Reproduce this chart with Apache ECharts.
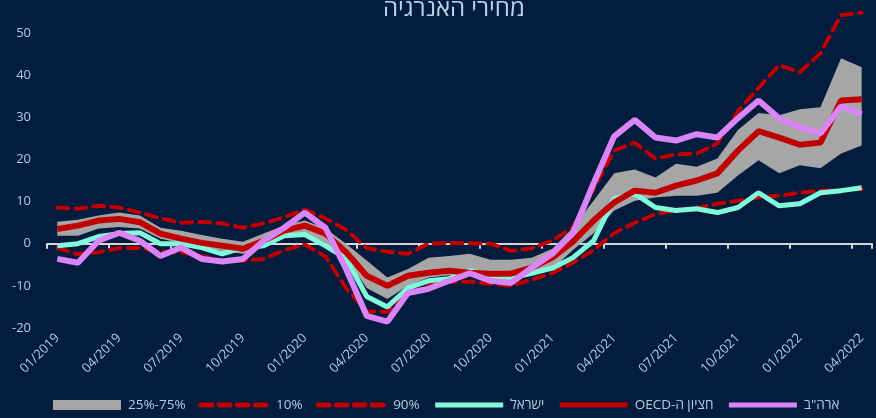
<!DOCTYPE html>
<html>
<head>
<meta charset="utf-8">
<script src="https://cdn.jsdelivr.net/npm/echarts@6/dist/echarts.min.js"></script>
<style>
  html, body { margin: 0; padding: 0; background: #041c3e; }
  #main { width: 876px; height: 418px; }
</style>
</head>
<body>
<div id="main"></div>
<script>
// months 01/2019 .. 04/2022
let months = ['01/2019','02/2019','03/2019','04/2019','05/2019','06/2019','07/2019','08/2019','09/2019','10/2019','11/2019','12/2019',
  '01/2020','02/2020','03/2020','04/2020','05/2020','06/2020','07/2020','08/2020','09/2020','10/2020','11/2020','12/2020',
  '01/2021','02/2021','03/2021','04/2021','05/2021','06/2021','07/2021','08/2021','09/2021','10/2021','11/2021','12/2021',
  '01/2022','02/2022','03/2022','04/2022'];

let p25 = [1.9,1.9,3.6,4.0,3.6,1.2,0.2,-0.5,-1.7,-2.4,-0.9,1.4,2.4,0.2,-3.5,-10.5,-13.1,-10,-8,-7.5,-7,-7.8,-8,-7,-6,-1.5,2.5,7.9,10.2,11,11.4,11.4,12.1,16.2,19.8,16.7,18.6,17.9,21.4,23.3];
let p75 = [5.2,5.7,6.7,7.4,6.7,3.8,3.1,2.1,1.2,0.5,2.4,4.3,5.5,3.6,0,-4,-8,-6,-3.3,-2.9,-2.4,-3.8,-3.8,-3.3,-1.2,3.8,10.2,16.7,17.6,15.7,19,18.3,20.2,27,31,30.5,31.9,32.4,44,41.9];
let p10 = [-1,-2.5,-2,-1,-1,-1.8,-2,-3,-4,-4,-3.6,-1.5,-0.2,-3,-10.5,-16,-16.2,-12,-10,-9,-9,-9.5,-10,-8.5,-7,-4.5,-1.5,2.5,5,7,8,8.5,9.5,10.2,11,11.4,12.1,12.6,12.6,13];
let p90 = [8.6,8.3,9.0,8.6,7.4,6.0,5.0,5.2,4.8,3.8,4.8,6.3,8.1,6.0,3.3,-1.0,-1.9,-2.4,0,0.2,0.1,0,-1.7,-1.1,0.8,3.8,13,22.1,24,20.2,21.2,21.4,23.8,31.5,37,42.4,40.7,45.2,54.3,54.8];
let israel = [-0.5,0,1.7,2.4,2.6,0,0,-0.9,-2.4,-0.9,-0.5,1.9,2.2,-0.5,-3.5,-12.5,-15,-10.5,-8.8,-8.3,-6.4,-7.6,-8.1,-7,-5.8,-3.3,0.7,10.7,11.9,8.6,7.9,8.3,7.4,8.6,12.1,9,9.5,12.1,12.6,13.3];
let oecd = [3.5,4.3,5.5,5.9,5.1,2.4,1.2,0.2,-0.5,-1.2,0.7,3.1,4.3,2.4,-2,-7.6,-10,-7.6,-6.9,-6.4,-6.9,-7.1,-7.1,-5.7,-3.3,0.5,5.5,9.8,12.6,12.1,13.8,15,16.7,22.1,26.7,25.2,23.5,24,34,34.3];
let usa = [-3.6,-4.5,0.7,2.6,0.7,-2.9,-0.9,-3.6,-4.2,-3.6,0.7,3.8,7.4,3.8,-6,-17.1,-18.5,-11.7,-10.7,-8.8,-7,-8.8,-9.3,-5.7,-2.4,2.6,14.3,25.5,29.4,25.2,24.5,26,25.2,29.8,34,29.8,27.6,26.2,32.6,30.7];

let NAME_BAND = '25%-75%';
let NAME_P10 = '10%';
let NAME_P90 = '90%';
let NAME_ISR = 'ישראל';
let NAME_OECD = '\u202Bחציון ה-OECD\u202C';
let NAME_USA = 'ארה"ב';

// band drawn as stack: lower (invisible) + width
let bandWidth = p75.map((v, i) => +(v - p25[i]).toFixed(2));

let textColor = '#b3cce3';
let font = '"Open Sans", "DejaVu Sans", sans-serif';

let chart = echarts.init(document.getElementById('main'));
let option = {
  backgroundColor: '#041c3e',
  animation: false,
  title: {
    text: 'מחירי האנרגיה',
    left: 378,
    top: -8,
    textStyle: { color: '#bad6ee', fontSize: 24, fontWeight: 'normal', fontFamily: font }
  },
  grid: { left: 47, right: 4, top: 12, bottom: 90 },
  legend: {
    left: 53,
    top: 398,
    padding: 0,
    itemWidth: 68,
    itemHeight: 10,
    itemGap: 13,
    itemStyle: { opacity: 0 },
    lineStyle: { width: 5 },
    textStyle: { color: textColor, fontSize: 13.5, fontFamily: font, padding: [0, 0, 0, 2] },
    data: [
      { name: NAME_BAND, icon: 'rect', itemStyle: { color: '#a6a6a6', opacity: 1 } },
      NAME_P10, NAME_P90, NAME_ISR, NAME_OECD, NAME_USA
    ]
  },
  xAxis: [
    {
      type: 'category',
      data: months,
      boundaryGap: true,
      position: 'bottom',
      axisLine: { show: false, onZero: false },
      axisTick: { show: false },
      axisLabel: { interval: 2, rotate: 45, color: textColor, fontSize: 13, fontFamily: font, margin: 8 }
    },
    {
      type: 'category',
      data: months,
      boundaryGap: true,
      position: 'bottom',
      axisLine: { show: true, onZero: true, lineStyle: { color: '#d6d6d6', width: 2 } },
      axisTick: { show: true, interval: 2, length: 5, lineStyle: { color: '#d6d6d6', width: 2 } },
      axisLabel: { show: false }
    }
  ],
  yAxis: {
    type: 'value',
    min: -20,
    max: 55,
    interval: 10,
    axisLine: { show: false },
    axisTick: { show: false },
    splitLine: { show: false },
    axisLabel: { color: textColor, fontSize: 13, fontFamily: font, margin: 16, showMaxLabel: false }
  },
  series: [
    {
      name: 'lower',
      type: 'line',
      data: p25,
      stack: 'band',
      stackStrategy: 'all',
      symbol: 'none',
      silent: true,
      lineStyle: { opacity: 0 }
    },
    {
      name: NAME_BAND,
      type: 'line',
      data: bandWidth,
      stack: 'band',
      stackStrategy: 'all',
      symbol: 'none',
      silent: true,
      color: '#a6a6a6',
      lineStyle: { opacity: 0 },
      areaStyle: { color: '#a6a6a6', opacity: 1 }
    },
    {
      name: NAME_P10,
      type: 'line',
      data: p10,
      symbol: 'none',
      color: '#c00000',
      lineStyle: { width: 4, type: [11, 7], cap: 'round' }
    },
    {
      name: NAME_P90,
      type: 'line',
      data: p90,
      symbol: 'none',
      color: '#c00000',
      lineStyle: { width: 4, type: [11, 7], cap: 'round' }
    },
    {
      name: NAME_ISR,
      type: 'line',
      data: israel,
      symbol: 'none',
      color: '#80fcdc',
      lineStyle: { width: 5 }
    },
    {
      name: NAME_OECD,
      type: 'line',
      data: oecd,
      symbol: 'none',
      color: '#c00000',
      lineStyle: { width: 6 }
    },
    {
      name: NAME_USA,
      type: 'line',
      data: usa,
      symbol: 'none',
      color: '#d985f7',
      lineStyle: { width: 6 }
    }
  ]
};
chart.setOption(option);
</script>
</body>
</html>
